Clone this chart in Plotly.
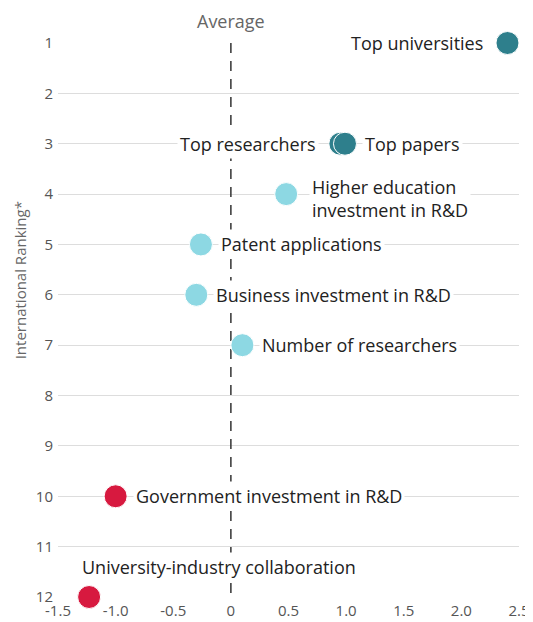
import plotly.graph_objects as go

# values
indicators = [
    "Top universities",
    "Top researchers",
    "Top papers",
    "Higher education<br>investment in R&D",
    "Patent applications",
    "Business investment in R&D",
    "Number of researchers",
    "Government investment in R&D",
    "University-industry collaboration",
]
scores = [2.40, 0.95, 0.99, 0.48, -0.26, -0.30, 0.10, -1.00, -1.23]
ranks = [1, 3, 3, 4, 5, 6, 7, 10, 12]
colors = ["#2e7f8c", "#2e7f8c", "#2e7f8c", "#8dd8e3", "#8dd8e3",
          "#8dd8e3", "#8dd8e3", "#d7193f", "#d7193f"]
# where each label sits relative to its dot
label_side = ["left", "left", "right", "right", "right", "right", "right", "right", "above"]

x_ticks = [-1.5, -1.0, -0.5, 0, 0.5, 1.0, 1.5, 2.0, 2.5]
x_tick_text = ["-1.5", "-1.0", "-0.5", "0", "0.5", "1.0", "1.5", "2.0", "2.5"]
y_ticks = list(range(1, 13))

FONT = "Open Sans"

fig = go.Figure()

# average line
fig.add_trace(
    go.Scatter(
        x=[0, 0],
        y=[1, 12],
        mode="lines",
        line=dict(color="#333333", width=1.5, dash="10px,8px"),
        hoverinfo="skip",
        showlegend=False,
    )
)

fig.add_trace(
    go.Scatter(
        x=scores,
        y=ranks,
        mode="markers",
        marker=dict(size=23, color=colors, line=dict(color="white", width=1)),
        text=indicators,
        cliponaxis=False,
        showlegend=False,
    )
)

for name, sx, ry, side in zip(indicators, scores, ranks, label_side):
    ann = dict(
        x=sx, y=ry, xref="x", yref="y", text=name, showarrow=False,
        font=dict(family=FONT, size=18, color="#222222"),
        bgcolor="white", borderpad=2,
    )
    if side == "left":
        ann.update(xanchor="right", xshift=-21)
    elif side == "right":
        ann.update(xanchor="left", xshift=17, align="left")
    else:
        ann.update(xanchor="left", xshift=-10, yshift=30)
    if "<br>" in name:
        ann.update(yanchor="top", yshift=22, xshift=23)
    fig.add_annotation(**ann)

fig.add_annotation(
    x=0, y=1, xref="x", yref="y", text="Average", showarrow=False,
    yshift=22, font=dict(family=FONT, size=18, color="#666666"),
)

fig.add_annotation(
    x=-0.108, y=0.572, xref="paper", yref="paper", text="International Ranking*",
    textangle=-90, showarrow=False, font=dict(family=FONT, size=15, color="#666666"),
)

fig.update_layout(
    width=533,
    height=622,
    margin=dict(l=50, r=22, t=35, b=33),
    plot_bgcolor="white",
    paper_bgcolor="white",
    font=dict(family=FONT, color="#555555"),
    xaxis=dict(
        range=[-1.5, 2.5],
        tickvals=x_ticks,
        ticktext=x_tick_text,
        showgrid=False,
        zeroline=False,
        tickfont=dict(size=15, color="#555555"),
        ticklen=0,
        ticklabelstandoff=3,
        automargin=False,
    ),
    yaxis=dict(
        range=[12, 1],
        tickvals=y_ticks,
        showgrid=True,
        gridcolor="#dddddd",
        gridwidth=1,
        zeroline=False,
        tickfont=dict(size=15, color="#555555"),
        ticklen=0,
        ticklabelstandoff=4,
        automargin=False,
    ),
)

fig.write_html("out.html")
